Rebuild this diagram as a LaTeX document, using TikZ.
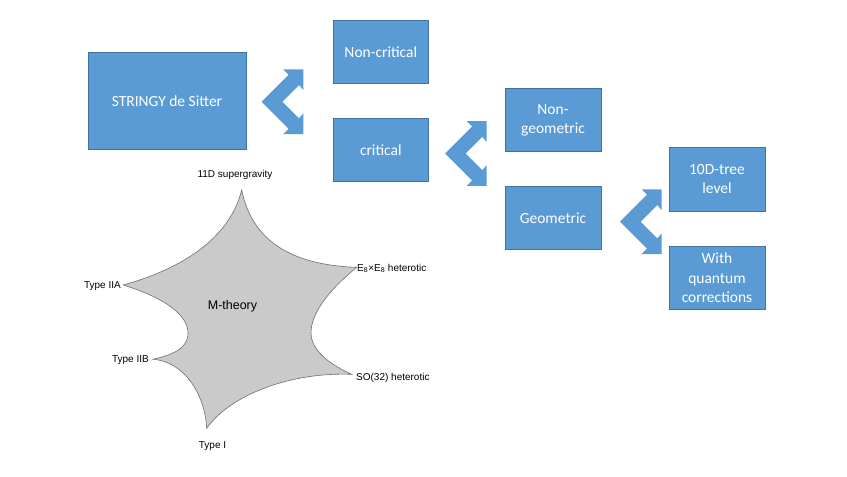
\documentclass[tikz,border=0pt]{standalone}
\usepackage{fontspec}
\setmainfont{Liberation Sans}
\newfontfamily\boxfont{Carlito}
\definecolor{boxblue}{HTML}{5B9BD5}
\definecolor{boxedge}{HTML}{41719C}
\definecolor{stargray}{HTML}{CACACA}
\definecolor{staredge}{HTML}{707070}
\newcommand\chevronarrow[1]{%
  \fill[boxblue, shift={(#1)}] (0,0) -- (27,-27) -- (21.6,-32.4) -- (41.6,-32.4) -- (41.6,-11.7)
    -- (37.3,-16.7) -- (20.6,0) -- (37.3,16.7) -- (41.6,11.7) -- (41.6,32.4)
    -- (21.6,32.4) -- (27,27) -- cycle;}
\begin{document}
\begin{tikzpicture}[x=1pt,y=-1pt,
  bluebox/.style={draw=boxedge, line width=0.7pt, fill=boxblue, text=white,
    font=\boxfont\fontsize{15.5}{19.2}\selectfont, align=center, inner sep=2pt},
  lbl/.style={font=\fontsize{10}{12}\selectfont, inner sep=0pt}]
\useasboundingbox (0,0) rectangle (847,477);
\fill[white] (0,0) rectangle (847,477);
% boxes
\node[bluebox, minimum width=158pt, minimum height=97pt] (sds) at (167,100.8) {STRINGY de Sitter};
\node[bluebox, minimum width=95pt, minimum height=63pt] (noncrit) at (380.8,52) {Non-critical};
\node[bluebox, minimum width=95pt, minimum height=63pt] (crit) at (380.8,150) {critical};
\node[bluebox, minimum width=96pt, minimum height=63pt] (nongeo) at (553,120) {Non-\\geometric};
\node[bluebox, minimum width=96pt, minimum height=63pt] (geo) at (553,218.3) {Geometric};
\node[bluebox, minimum width=96pt, minimum height=64pt] (tree) at (717,179.2) {10D-tree\\level};
\node[bluebox, minimum width=96pt, minimum height=63pt] (quant) at (717,277.7) {With\\quantum\\corrections};
% chevron arrows
\chevronarrow{261.7,101.7}
\chevronarrow{445,153.5}
\chevronarrow{620,221.7}
% star
\coordinate (vtop) at (241.7,190);
\coordinate (ve8) at (356.7,267.3);
\coordinate (vso) at (351.7,374.3);
\coordinate (vI) at (206.7,428.3);
\coordinate (vIIB) at (153.3,359.3);
\coordinate (vIIA) at (123.3,285);
\filldraw[fill=stargray, draw=staredge, line width=0.6pt]
  (vtop) .. controls (252,240) and (290,265) .. (ve8)
  .. controls (335,285) and (311,310) .. (311,333)
  .. controls (311,345) and (320,360) .. (vso)
  .. controls (290,372) and (230,395) .. (vI)
  .. controls (205,395) and (185,362) .. (vIIB)
  .. controls (170,355) and (188,350) .. (188,333)
  .. controls (188,315) and (165,298) .. (vIIA)
  .. controls (170,272) and (228,245) .. (vtop) -- cycle;
\node[font=\fontsize{12.5}{14}\selectfont, inner sep=0pt] (mth) at (232.5,306) {M-theory};
\node[lbl] (l11) at (235,175) {11D supergravity};
\node[lbl, anchor=east] (lIIA) at (121,286) {Type IIA};
\node[lbl, anchor=east] (lIIB) at (149,360) {Type IIB};
\node[lbl] (lI) at (212.5,446) {Type I};
\node[lbl, anchor=west] (le8) at (357,268.5) {E\textsubscript{8}×E\textsubscript{8} heterotic};
\node[lbl, anchor=west] (lso) at (356,378.3) {SO(32) heterotic};
\end{tikzpicture}
\end{document}
